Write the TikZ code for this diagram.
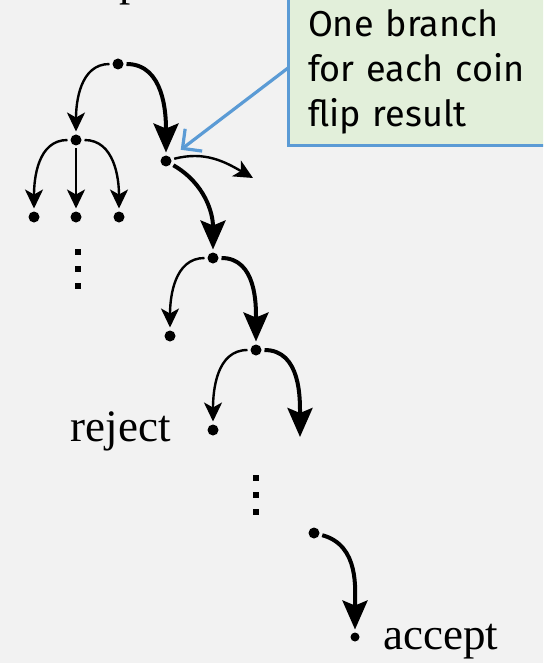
\documentclass[tikz,border=0pt]{standalone}
\usepackage{fontspec}
\setmainfont{Liberation Serif}
\newfontfamily\notefont{Fira Sans}
\usetikzlibrary{arrows.meta}
\usetikzlibrary{positioning}
\definecolor{PageGray}{HTML}{F2F2F2}
\definecolor{NoteGreen}{HTML}{E2EFDA}
\definecolor{NoteBlue}{HTML}{5B9BD5}
\tikzset{
  vertex/.style={circle,fill,inner sep=0pt,minimum size=11pt,outer sep=3pt},
  thinedge/.style={line width=2.4pt,-{Stealth[length=19pt,width=18pt,inset=5pt]}},
  boldedge/.style={line width=4pt,-{Stealth[length=29pt,width=25pt,inset=5pt]}},
  word/.style={font=\fontsize{45}{48}\selectfont,inner sep=0pt},
  note/.style={draw=NoteBlue,line width=3pt,fill=NoteGreen,outer sep=0pt,
    align=left,text width=260pt,inner xsep=20pt,inner ysep=12pt,
    font=\notefont\fontsize{36}{45}\selectfont},
  pointer/.style={draw=NoteBlue,line width=3.2pt,
    -{Straight Barb[length=14pt,width=28pt]}}
}

\begin{document}
\begin{tikzpicture}[x=1pt,y=1pt]
  \fill[PageGray] (0,0) rectangle (543,-663);
  \useasboundingbox (0,0) rectangle (543,-663);
  \clip (0,0) rectangle (543,-663);

  % tail of the label above the tree
  \node[word,anchor=base west] (cut) at (119,4.5) {p};

  % first level
  \node[vertex] (root) at (118,-64) {};
  \node[vertex] (l1)   at (76,-140) {};
  \node[vertex] (c1)   at (166,-161) {};
  \draw[thinedge] (root) to[out=180,in=90] (l1);
  \draw[boldedge] (root) to[out=0,in=90] (c1);

  % three-way split on the left
  \node[vertex] (l1a) at (34,-217) {};
  \node[vertex] (l1b) at (76,-217) {};
  \node[vertex] (l1c) at (119,-217) {};
  \draw[thinedge] (l1) to[out=180,in=90] (l1a);
  \draw[thinedge] (l1) -- (l1b);
  \draw[thinedge] (l1) to[out=0,in=90] (l1c);

  % the path that is followed
  \coordinate (c1out) at (253,-178);
  \node[vertex] (d1)  at (213,-258) {};
  \node[vertex] (d1l) at (170,-336) {};
  \node[vertex] (e1)  at (256,-350) {};
  \node[vertex] (f1)  at (213,-430) {};
  \coordinate (e1out) at (300,-437);
  \draw[thinedge] (c1) to[out=15,in=150] (c1out);
  \draw[boldedge] (c1) to[out=-30,in=90] (d1);
  \draw[thinedge] (d1) to[out=180,in=90] (d1l);
  \draw[boldedge] (d1) to[out=0,in=90] (e1);
  \draw[thinedge] (e1) to[out=180,in=90] (f1);
  \draw[boldedge] (e1) to[out=0,in=90] (e1out);
  \node[word,anchor=base east] (rej) at (171,-441) {reject};

  \node[vertex] (g1) at (314,-533) {};
  \node[vertex,minimum size=9pt] (h1) at (355,-637) {};
  \draw[boldedge] (g1) to[out=-15,in=90] (h1);
  \node[word,anchor=base west] (acc) at (383,-649) {accept};

  % vertical dots
  \foreach \y in {252,269,286}{%
    \fill (75.2,-\y+2.8) rectangle ++(5.6,-5.6);
  }
  \foreach \y in {478,495,512}{%
    \fill (253.2,-\y+2.8) rectangle ++(5.6,-5.6);
  }

  % callout
  \node[note,anchor=south west] (note) at (288,-146)
    {One branch\\for each coin\\flip result};
  \coordinate (hook) at (note.west |- 0,-68);
  \draw[pointer,shorten >=10pt] (hook) -- (c1);
\end{tikzpicture}
\end{document}
